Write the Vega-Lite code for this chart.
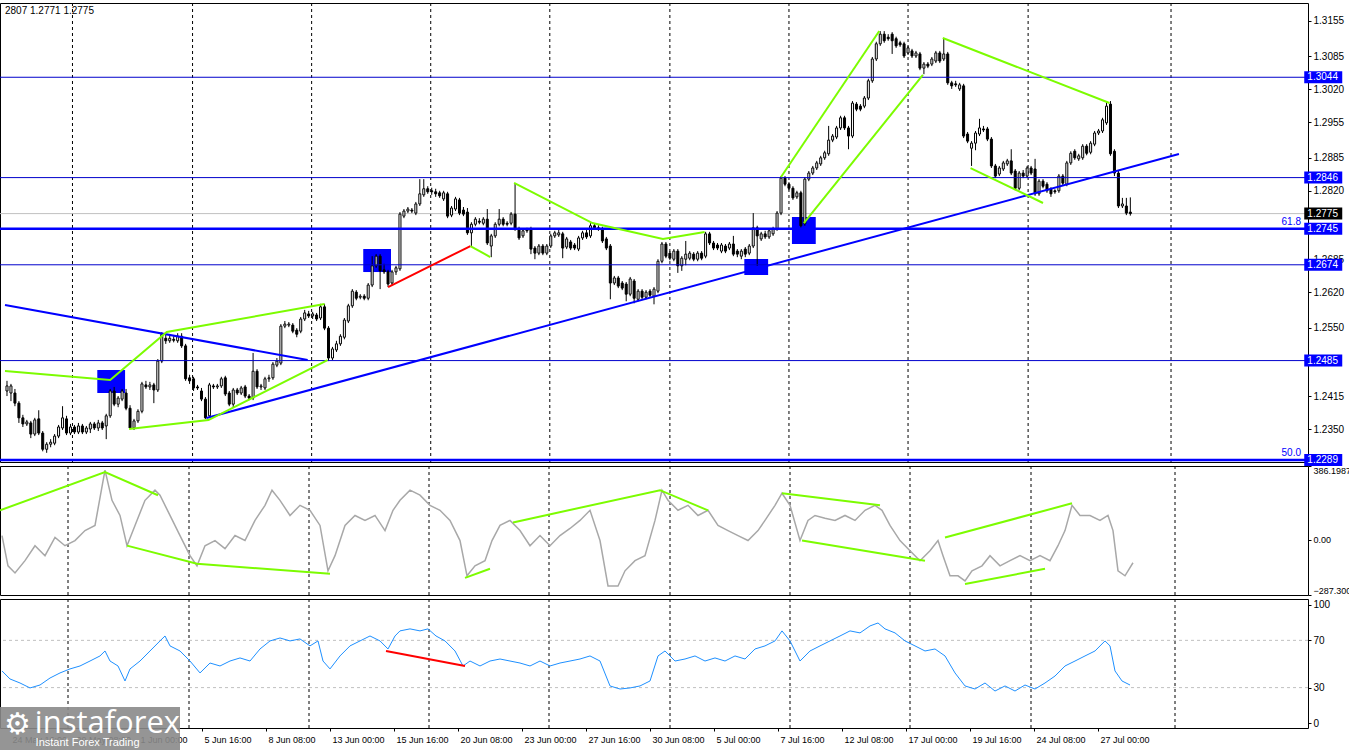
{
"$schema":"https://vega.github.io/schema/vega-lite/v6.json",
"background":"white",
"padding":{"left":-5,"top":2,"right":-8,"bottom":0},
"autosize":{"type":"pad"},
"spacing":4,
"bounds":"flush",
"config":{"view":{"stroke":"black","strokeWidth":1},"axis":{"labelFont":"Liberation Sans","labelFontSize":10,"labelColor":"black","tickColor":"black","tickSize":3,"domain":false,"grid":false,"labelPadding":2}},
"datasets":{
"one":[{"n":1}],
"bars":[
{"i":0,"o":1.2425,"h":1.2445,"l":1.2415,"c":1.2435},{"i":1,"o":1.2421,"h":1.2439,"l":1.2405,"c":1.2435},{"i":2,"o":1.2421,"h":1.2429,"l":1.2395,"c":1.2401},{"i":3,"o":1.2401,"h":1.2405,"l":1.2362,"c":1.2372},{"i":4,"o":1.2372,"h":1.2378,"l":1.2354,"c":1.2360},{"i":5,"o":1.2360,"h":1.2368,"l":1.2356,"c":1.2364},{"i":6,"o":1.2362,"h":1.2366,"l":1.2332,"c":1.2340},{"i":7,"o":1.2340,"h":1.2372,"l":1.2336,"c":1.2368},{"i":8,"o":1.2370,"h":1.2387,"l":1.2338,"c":1.2342},{"i":9,"o":1.2342,"h":1.2346,"l":1.2306,"c":1.2310},
{"i":10,"o":1.2310,"h":1.2324,"l":1.2303,"c":1.2320},{"i":11,"o":1.2320,"h":1.2330,"l":1.2314,"c":1.2324},{"i":12,"o":1.2322,"h":1.2340,"l":1.2318,"c":1.2336},{"i":13,"o":1.2336,"h":1.2358,"l":1.2332,"c":1.2354},{"i":14,"o":1.2352,"h":1.2395,"l":1.2348,"c":1.2372},{"i":15,"o":1.2370,"h":1.2376,"l":1.2338,"c":1.2342},{"i":16,"o":1.2342,"h":1.2360,"l":1.2338,"c":1.2354},{"i":17,"o":1.2354,"h":1.2358,"l":1.2340,"c":1.2344},{"i":18,"o":1.2344,"h":1.2362,"l":1.2340,"c":1.2356},{"i":19,"o":1.2356,"h":1.2360,"l":1.2340,"c":1.2344},
{"i":20,"o":1.2344,"h":1.2356,"l":1.2340,"c":1.2352},{"i":21,"o":1.2350,"h":1.2364,"l":1.2342,"c":1.2360},{"i":22,"o":1.2360,"h":1.2364,"l":1.2348,"c":1.2352},{"i":23,"o":1.2352,"h":1.2368,"l":1.2346,"c":1.2362},{"i":24,"o":1.2362,"h":1.2366,"l":1.2348,"c":1.2352},{"i":25,"o":1.2356,"h":1.2380,"l":1.2330,"c":1.2376},{"i":26,"o":1.2376,"h":1.2429,"l":1.2372,"c":1.2425},{"i":27,"o":1.2425,"h":1.2433,"l":1.2395,"c":1.2399},{"i":28,"o":1.2399,"h":1.2415,"l":1.2393,"c":1.2411},{"i":29,"o":1.2409,"h":1.2429,"l":1.2405,"c":1.2425},
{"i":30,"o":1.2421,"h":1.2429,"l":1.2387,"c":1.2391},{"i":31,"o":1.2391,"h":1.2397,"l":1.2350,"c":1.2352},{"i":32,"o":1.2352,"h":1.2370,"l":1.2348,"c":1.2366},{"i":33,"o":1.2366,"h":1.2389,"l":1.2362,"c":1.2385},{"i":34,"o":1.2385,"h":1.2443,"l":1.2381,"c":1.2439},{"i":35,"o":1.2437,"h":1.2445,"l":1.2429,"c":1.2433},{"i":36,"o":1.2433,"h":1.2443,"l":1.2427,"c":1.2437},{"i":37,"o":1.2437,"h":1.2441,"l":1.2401,"c":1.2427},{"i":38,"o":1.2427,"h":1.2488,"l":1.2423,"c":1.2484},{"i":39,"o":1.2484,"h":1.2541,"l":1.2480,"c":1.2537},
{"i":40,"o":1.2529,"h":1.2537,"l":1.2518,"c":1.2524},{"i":41,"o":1.2524,"h":1.2535,"l":1.2520,"c":1.2529},{"i":42,"o":1.2527,"h":1.2533,"l":1.2521,"c":1.2525},{"i":43,"o":1.2524,"h":1.2539,"l":1.2520,"c":1.2533},{"i":44,"o":1.2533,"h":1.2539,"l":1.2510,"c":1.2514},{"i":45,"o":1.2514,"h":1.2518,"l":1.2445,"c":1.2449},{"i":46,"o":1.2451,"h":1.2457,"l":1.2439,"c":1.2445},{"i":47,"o":1.2449,"h":1.2453,"l":1.2425,"c":1.2431},{"i":48,"o":1.2433,"h":1.2437,"l":1.2427,"c":1.2431},{"i":49,"o":1.2425,"h":1.2431,"l":1.2405,"c":1.2409},
{"i":50,"o":1.2409,"h":1.2413,"l":1.2370,"c":1.2372},{"i":51,"o":1.2376,"h":1.2441,"l":1.2372,"c":1.2437},{"i":52,"o":1.2435,"h":1.2439,"l":1.2429,"c":1.2433},{"i":53,"o":1.2433,"h":1.2439,"l":1.2429,"c":1.2435},{"i":54,"o":1.2435,"h":1.2453,"l":1.2431,"c":1.2449},{"i":55,"o":1.2451,"h":1.2455,"l":1.2415,"c":1.2419},{"i":56,"o":1.2421,"h":1.2425,"l":1.2395,"c":1.2399},{"i":57,"o":1.2399,"h":1.2431,"l":1.2393,"c":1.2427},{"i":58,"o":1.2427,"h":1.2431,"l":1.2417,"c":1.2421},{"i":59,"o":1.2421,"h":1.2435,"l":1.2417,"c":1.2431},
{"i":60,"o":1.2433,"h":1.2437,"l":1.2411,"c":1.2415},{"i":61,"o":1.2415,"h":1.2419,"l":1.2407,"c":1.2411},{"i":62,"o":1.2411,"h":1.2500,"l":1.2407,"c":1.2464},{"i":63,"o":1.2464,"h":1.2468,"l":1.2429,"c":1.2433},{"i":64,"o":1.2433,"h":1.2439,"l":1.2427,"c":1.2435},{"i":65,"o":1.2431,"h":1.2453,"l":1.2427,"c":1.2449},{"i":66,"o":1.2449,"h":1.2457,"l":1.2443,"c":1.2451},{"i":67,"o":1.2451,"h":1.2482,"l":1.2447,"c":1.2478},{"i":68,"o":1.2476,"h":1.2490,"l":1.2472,"c":1.2484},{"i":69,"o":1.2480,"h":1.2557,"l":1.2476,"c":1.2553},
{"i":70,"o":1.2553,"h":1.2563,"l":1.2549,"c":1.2557},{"i":71,"o":1.2555,"h":1.2561,"l":1.2551,"c":1.2557},{"i":72,"o":1.2555,"h":1.2559,"l":1.2539,"c":1.2543},{"i":73,"o":1.2545,"h":1.2549,"l":1.2531,"c":1.2537},{"i":74,"o":1.2543,"h":1.2571,"l":1.2539,"c":1.2567},{"i":75,"o":1.2567,"h":1.2585,"l":1.2563,"c":1.2579},{"i":76,"o":1.2577,"h":1.2583,"l":1.2569,"c":1.2573},{"i":77,"o":1.2573,"h":1.2581,"l":1.2567,"c":1.2577},{"i":78,"o":1.2575,"h":1.2579,"l":1.2563,"c":1.2567},{"i":79,"o":1.2569,"h":1.2597,"l":1.2565,"c":1.2591},
{"i":80,"o":1.2591,"h":1.2597,"l":1.2545,"c":1.2549},{"i":81,"o":1.2549,"h":1.2553,"l":1.2484,"c":1.2490},{"i":82,"o":1.2490,"h":1.2512,"l":1.2486,"c":1.2508},{"i":83,"o":1.2506,"h":1.2524,"l":1.2502,"c":1.2518},{"i":84,"o":1.2518,"h":1.2537,"l":1.2514,"c":1.2533},{"i":85,"o":1.2531,"h":1.2569,"l":1.2527,"c":1.2565},{"i":86,"o":1.2563,"h":1.2597,"l":1.2559,"c":1.2593},{"i":87,"o":1.2593,"h":1.2626,"l":1.2589,"c":1.2622},{"i":88,"o":1.2620,"h":1.2624,"l":1.2604,"c":1.2608},{"i":89,"o":1.2610,"h":1.2616,"l":1.2606,"c":1.2612},
{"i":90,"o":1.2612,"h":1.2616,"l":1.2604,"c":1.2608},{"i":91,"o":1.2608,"h":1.2638,"l":1.2604,"c":1.2634},{"i":92,"o":1.2634,"h":1.2691,"l":1.2630,"c":1.2672},{"i":93,"o":1.2672,"h":1.2695,"l":1.2668,"c":1.2691},{"i":94,"o":1.2691,"h":1.2695,"l":1.2626,"c":1.2662},{"i":95,"o":1.2664,"h":1.2676,"l":1.2656,"c":1.2660},{"i":96,"o":1.2660,"h":1.2664,"l":1.2630,"c":1.2636},{"i":97,"o":1.2638,"h":1.2664,"l":1.2634,"c":1.2660},{"i":98,"o":1.2660,"h":1.2672,"l":1.2654,"c":1.2668},{"i":99,"o":1.2666,"h":1.2778,"l":1.2662,"c":1.2774},
{"i":100,"o":1.2770,"h":1.2784,"l":1.2766,"c":1.2780},{"i":101,"o":1.2780,"h":1.2788,"l":1.2776,"c":1.2784},{"i":102,"o":1.2782,"h":1.2786,"l":1.2776,"c":1.2780},{"i":103,"o":1.2776,"h":1.2798,"l":1.2772,"c":1.2794},{"i":104,"o":1.2794,"h":1.2843,"l":1.2790,"c":1.2814},{"i":105,"o":1.2812,"h":1.2843,"l":1.2808,"c":1.2824},{"i":106,"o":1.2824,"h":1.2829,"l":1.2814,"c":1.2818},{"i":107,"o":1.2820,"h":1.2826,"l":1.2812,"c":1.2818},{"i":108,"o":1.2818,"h":1.2824,"l":1.2808,"c":1.2814},{"i":109,"o":1.2816,"h":1.2820,"l":1.2806,"c":1.2810},
{"i":110,"o":1.2804,"h":1.2820,"l":1.2800,"c":1.2816},{"i":111,"o":1.2814,"h":1.2818,"l":1.2766,"c":1.2770},{"i":112,"o":1.2772,"h":1.2790,"l":1.2768,"c":1.2786},{"i":113,"o":1.2784,"h":1.2808,"l":1.2780,"c":1.2804},{"i":114,"o":1.2802,"h":1.2806,"l":1.2772,"c":1.2776},{"i":115,"o":1.2782,"h":1.2788,"l":1.2770,"c":1.2774},{"i":116,"o":1.2778,"h":1.2786,"l":1.2733,"c":1.2737},{"i":117,"o":1.2737,"h":1.2758,"l":1.2711,"c":1.2754},{"i":118,"o":1.2754,"h":1.2768,"l":1.2750,"c":1.2764},{"i":119,"o":1.2760,"h":1.2766,"l":1.2754,"c":1.2758},
{"i":120,"o":1.2756,"h":1.2768,"l":1.2752,"c":1.2764},{"i":121,"o":1.2764,"h":1.2784,"l":1.2713,"c":1.2717},{"i":122,"o":1.2711,"h":1.2735,"l":1.2689,"c":1.2731},{"i":123,"o":1.2731,"h":1.2758,"l":1.2727,"c":1.2754},{"i":124,"o":1.2754,"h":1.2784,"l":1.2750,"c":1.2764},{"i":125,"o":1.2764,"h":1.2768,"l":1.2750,"c":1.2754},{"i":126,"o":1.2756,"h":1.2760,"l":1.2750,"c":1.2754},{"i":127,"o":1.2756,"h":1.2778,"l":1.2752,"c":1.2774},{"i":128,"o":1.2774,"h":1.2835,"l":1.2741,"c":1.2745},{"i":129,"o":1.2745,"h":1.2749,"l":1.2723,"c":1.2727},
{"i":130,"o":1.2731,"h":1.2745,"l":1.2727,"c":1.2741},{"i":131,"o":1.2743,"h":1.2747,"l":1.2737,"c":1.2741},{"i":132,"o":1.2745,"h":1.2749,"l":1.2695,"c":1.2705},{"i":133,"o":1.2707,"h":1.2711,"l":1.2685,"c":1.2697},{"i":134,"o":1.2697,"h":1.2715,"l":1.2693,"c":1.2711},{"i":135,"o":1.2711,"h":1.2715,"l":1.2693,"c":1.2697},{"i":136,"o":1.2697,"h":1.2715,"l":1.2693,"c":1.2711},{"i":137,"o":1.2711,"h":1.2735,"l":1.2707,"c":1.2731},{"i":138,"o":1.2731,"h":1.2741,"l":1.2727,"c":1.2737},{"i":139,"o":1.2733,"h":1.2743,"l":1.2729,"c":1.2737},
{"i":140,"o":1.2735,"h":1.2739,"l":1.2687,"c":1.2707},{"i":141,"o":1.2709,"h":1.2729,"l":1.2705,"c":1.2725},{"i":142,"o":1.2719,"h":1.2723,"l":1.2703,"c":1.2707},{"i":143,"o":1.2713,"h":1.2717,"l":1.2703,"c":1.2707},{"i":144,"o":1.2705,"h":1.2731,"l":1.2701,"c":1.2727},{"i":145,"o":1.2727,"h":1.2741,"l":1.2723,"c":1.2737},{"i":146,"o":1.2737,"h":1.2743,"l":1.2725,"c":1.2729},{"i":147,"o":1.2731,"h":1.2756,"l":1.2727,"c":1.2751},{"i":148,"o":1.2751,"h":1.2756,"l":1.2743,"c":1.2747},{"i":149,"o":1.2747,"h":1.2752,"l":1.2741,"c":1.2745},
{"i":150,"o":1.2745,"h":1.2749,"l":1.2717,"c":1.2721},{"i":151,"o":1.2725,"h":1.2729,"l":1.2703,"c":1.2707},{"i":152,"o":1.2711,"h":1.2715,"l":1.2606,"c":1.2638},{"i":153,"o":1.2638,"h":1.2652,"l":1.2634,"c":1.2648},{"i":154,"o":1.2648,"h":1.2652,"l":1.2628,"c":1.2632},{"i":155,"o":1.2638,"h":1.2642,"l":1.2624,"c":1.2628},{"i":156,"o":1.2636,"h":1.2640,"l":1.2602,"c":1.2616},{"i":157,"o":1.2616,"h":1.2650,"l":1.2612,"c":1.2646},{"i":158,"o":1.2642,"h":1.2646,"l":1.2598,"c":1.2608},{"i":159,"o":1.2606,"h":1.2626,"l":1.2602,"c":1.2622},
{"i":160,"o":1.2622,"h":1.2626,"l":1.2606,"c":1.2610},{"i":161,"o":1.2610,"h":1.2624,"l":1.2606,"c":1.2620},{"i":162,"o":1.2622,"h":1.2626,"l":1.2610,"c":1.2614},{"i":163,"o":1.2612,"h":1.2630,"l":1.2596,"c":1.2626},{"i":164,"o":1.2622,"h":1.2685,"l":1.2618,"c":1.2681},{"i":165,"o":1.2681,"h":1.2719,"l":1.2677,"c":1.2715},{"i":166,"o":1.2715,"h":1.2719,"l":1.2687,"c":1.2691},{"i":167,"o":1.2697,"h":1.2701,"l":1.2683,"c":1.2687},{"i":168,"o":1.2685,"h":1.2705,"l":1.2681,"c":1.2701},{"i":169,"o":1.2701,"h":1.2705,"l":1.2658,"c":1.2672},
{"i":170,"o":1.2672,"h":1.2691,"l":1.2662,"c":1.2687},{"i":171,"o":1.2685,"h":1.2721,"l":1.2673,"c":1.2695},{"i":172,"o":1.2687,"h":1.2701,"l":1.2683,"c":1.2697},{"i":173,"o":1.2695,"h":1.2699,"l":1.2681,"c":1.2685},{"i":174,"o":1.2685,"h":1.2701,"l":1.2681,"c":1.2697},{"i":175,"o":1.2697,"h":1.2701,"l":1.2683,"c":1.2687},{"i":176,"o":1.2691,"h":1.2739,"l":1.2687,"c":1.2735},{"i":177,"o":1.2735,"h":1.2739,"l":1.2713,"c":1.2717},{"i":178,"o":1.2717,"h":1.2721,"l":1.2703,"c":1.2707},{"i":179,"o":1.2713,"h":1.2717,"l":1.2703,"c":1.2707},
{"i":180,"o":1.2701,"h":1.2717,"l":1.2697,"c":1.2713},{"i":181,"o":1.2711,"h":1.2715,"l":1.2697,"c":1.2701},{"i":182,"o":1.2707,"h":1.2719,"l":1.2703,"c":1.2715},{"i":183,"o":1.2715,"h":1.2731,"l":1.2691,"c":1.2695},{"i":184,"o":1.2701,"h":1.2705,"l":1.2689,"c":1.2695},{"i":185,"o":1.2691,"h":1.2705,"l":1.2685,"c":1.2701},{"i":186,"o":1.2705,"h":1.2709,"l":1.2689,"c":1.2695},{"i":187,"o":1.2697,"h":1.2715,"l":1.2693,"c":1.2711},{"i":188,"o":1.2711,"h":1.2776,"l":1.2707,"c":1.2747},{"i":189,"o":1.2747,"h":1.2751,"l":1.2672,"c":1.2731},
{"i":190,"o":1.2725,"h":1.2739,"l":1.2721,"c":1.2735},{"i":191,"o":1.2735,"h":1.2741,"l":1.2725,"c":1.2729},{"i":192,"o":1.2729,"h":1.2745,"l":1.2725,"c":1.2741},{"i":193,"o":1.2735,"h":1.2749,"l":1.2731,"c":1.2745},{"i":194,"o":1.2745,"h":1.2780,"l":1.2741,"c":1.2776},{"i":195,"o":1.2776,"h":1.2849,"l":1.2772,"c":1.2845},{"i":196,"o":1.2845,"h":1.2849,"l":1.2829,"c":1.2833},{"i":197,"o":1.2833,"h":1.2837,"l":1.2821,"c":1.2825},{"i":198,"o":1.2825,"h":1.2829,"l":1.2802,"c":1.2806},{"i":199,"o":1.2808,"h":1.2820,"l":1.2804,"c":1.2816},
{"i":200,"o":1.2816,"h":1.2820,"l":1.2747,"c":1.2751},{"i":201,"o":1.2755,"h":1.2847,"l":1.2751,"c":1.2843},{"i":202,"o":1.2843,"h":1.2859,"l":1.2839,"c":1.2855},{"i":203,"o":1.2855,"h":1.2869,"l":1.2851,"c":1.2865},{"i":204,"o":1.2865,"h":1.2879,"l":1.2861,"c":1.2875},{"i":205,"o":1.2873,"h":1.2889,"l":1.2869,"c":1.2885},{"i":206,"o":1.2885,"h":1.2899,"l":1.2881,"c":1.2895},{"i":207,"o":1.2893,"h":1.2948,"l":1.2889,"c":1.2920},{"i":208,"o":1.2920,"h":1.2932,"l":1.2916,"c":1.2928},{"i":209,"o":1.2926,"h":1.2948,"l":1.2922,"c":1.2944},
{"i":210,"o":1.2944,"h":1.2968,"l":1.2940,"c":1.2964},{"i":211,"o":1.2964,"h":1.2968,"l":1.2940,"c":1.2944},{"i":212,"o":1.2944,"h":1.2948,"l":1.2902,"c":1.2928},{"i":213,"o":1.2928,"h":1.2997,"l":1.2924,"c":1.2993},{"i":214,"o":1.2991,"h":1.2995,"l":1.2977,"c":1.2981},{"i":215,"o":1.2987,"h":1.2991,"l":1.2977,"c":1.2981},{"i":216,"o":1.2987,"h":1.3007,"l":1.2983,"c":1.3003},{"i":217,"o":1.3003,"h":1.3041,"l":1.2999,"c":1.3037},{"i":218,"o":1.3037,"h":1.3084,"l":1.3033,"c":1.3080},{"i":219,"o":1.3080,"h":1.3114,"l":1.3076,"c":1.3110},
{"i":220,"o":1.3110,"h":1.3135,"l":1.3106,"c":1.3129},{"i":221,"o":1.3129,"h":1.3135,"l":1.3112,"c":1.3116},{"i":222,"o":1.3123,"h":1.3129,"l":1.3116,"c":1.3120},{"i":223,"o":1.3129,"h":1.3133,"l":1.3090,"c":1.3116},{"i":224,"o":1.3120,"h":1.3124,"l":1.3102,"c":1.3106},{"i":225,"o":1.3112,"h":1.3116,"l":1.3104,"c":1.3108},{"i":226,"o":1.3110,"h":1.3114,"l":1.3082,"c":1.3086},{"i":227,"o":1.3092,"h":1.3106,"l":1.3088,"c":1.3102},{"i":228,"o":1.3096,"h":1.3100,"l":1.3082,"c":1.3086},{"i":229,"o":1.3086,"h":1.3096,"l":1.3082,"c":1.3092},
{"i":230,"o":1.3090,"h":1.3094,"l":1.3058,"c":1.3062},{"i":231,"o":1.3062,"h":1.3074,"l":1.3050,"c":1.3070},{"i":232,"o":1.3070,"h":1.3074,"l":1.3062,"c":1.3066},{"i":233,"o":1.3070,"h":1.3084,"l":1.3066,"c":1.3080},{"i":234,"o":1.3076,"h":1.3096,"l":1.3072,"c":1.3092},{"i":235,"o":1.3092,"h":1.3096,"l":1.3072,"c":1.3076},{"i":236,"o":1.3080,"h":1.3120,"l":1.3076,"c":1.3090},{"i":237,"o":1.3090,"h":1.3094,"l":1.3029,"c":1.3033},{"i":238,"o":1.3033,"h":1.3037,"l":1.3021,"c":1.3027},{"i":239,"o":1.3031,"h":1.3037,"l":1.3025,"c":1.3029},
{"i":240,"o":1.3021,"h":1.3033,"l":1.3017,"c":1.3029},{"i":241,"o":1.3027,"h":1.3031,"l":1.2924,"c":1.2928},{"i":242,"o":1.2932,"h":1.2936,"l":1.2914,"c":1.2918},{"i":243,"o":1.2904,"h":1.2918,"l":1.2869,"c":1.2914},{"i":244,"o":1.2914,"h":1.2938,"l":1.2900,"c":1.2934},{"i":245,"o":1.2932,"h":1.2962,"l":1.2928,"c":1.2944},{"i":246,"o":1.2942,"h":1.2948,"l":1.2936,"c":1.2940},{"i":247,"o":1.2942,"h":1.2946,"l":1.2918,"c":1.2922},{"i":248,"o":1.2922,"h":1.2926,"l":1.2865,"c":1.2869},{"i":249,"o":1.2869,"h":1.2873,"l":1.2845,"c":1.2849},
{"i":250,"o":1.2853,"h":1.2869,"l":1.2849,"c":1.2865},{"i":251,"o":1.2863,"h":1.2879,"l":1.2859,"c":1.2875},{"i":252,"o":1.2873,"h":1.2883,"l":1.2869,"c":1.2879},{"i":253,"o":1.2879,"h":1.2902,"l":1.2851,"c":1.2855},{"i":254,"o":1.2859,"h":1.2863,"l":1.2821,"c":1.2825},{"i":255,"o":1.2825,"h":1.2859,"l":1.2821,"c":1.2855},{"i":256,"o":1.2855,"h":1.2861,"l":1.2845,"c":1.2849},{"i":257,"o":1.2849,"h":1.2869,"l":1.2845,"c":1.2865},{"i":258,"o":1.2865,"h":1.2869,"l":1.2851,"c":1.2855},{"i":259,"o":1.2863,"h":1.2883,"l":1.2810,"c":1.2814},
{"i":260,"o":1.2814,"h":1.2843,"l":1.2810,"c":1.2839},{"i":261,"o":1.2839,"h":1.2843,"l":1.2825,"c":1.2829},{"i":262,"o":1.2833,"h":1.2837,"l":1.2816,"c":1.2820},{"i":263,"o":1.2823,"h":1.2827,"l":1.2808,"c":1.2814},{"i":264,"o":1.2820,"h":1.2823,"l":1.2814,"c":1.2818},{"i":265,"o":1.2820,"h":1.2853,"l":1.2816,"c":1.2849},{"i":266,"o":1.2849,"h":1.2853,"l":1.2831,"c":1.2835},{"i":267,"o":1.2833,"h":1.2879,"l":1.2829,"c":1.2875},{"i":268,"o":1.2875,"h":1.2898,"l":1.2871,"c":1.2894},{"i":269,"o":1.2898,"h":1.2902,"l":1.2881,"c":1.2885},
{"i":270,"o":1.2883,"h":1.2893,"l":1.2879,"c":1.2889},{"i":271,"o":1.2885,"h":1.2912,"l":1.2881,"c":1.2908},{"i":272,"o":1.2908,"h":1.2912,"l":1.2890,"c":1.2894},{"i":273,"o":1.2896,"h":1.2918,"l":1.2892,"c":1.2914},{"i":274,"o":1.2912,"h":1.2938,"l":1.2908,"c":1.2934},{"i":275,"o":1.2934,"h":1.2942,"l":1.2930,"c":1.2938},{"i":276,"o":1.2938,"h":1.2964,"l":1.2934,"c":1.2960},{"i":277,"o":1.2954,"h":1.2997,"l":1.2950,"c":1.2987},{"i":278,"o":1.2991,"h":1.2997,"l":1.2889,"c":1.2893},{"i":279,"o":1.2898,"h":1.2902,"l":1.2849,"c":1.2855},
{"i":280,"o":1.2855,"h":1.2859,"l":1.2786,"c":1.2790},{"i":281,"o":1.2790,"h":1.2806,"l":1.2786,"c":1.2794},{"i":282,"o":1.2790,"h":1.2806,"l":1.2772,"c":1.2776},{"i":283,"o":1.2778,"h":1.2807,"l":1.2771,"c":1.2775}
],
"grid":[{"i":16.5},{"i":46.75},{"i":76.75},{"i":106.75},{"i":136.75},{"i":167},{"i":197},{"i":227},{"i":257.25},{"i":293.25}],
"hlines":[{"p":1.3044,"kind":"level"},{"p":1.2846,"kind":"level"},{"p":1.2674,"kind":"level"},{"p":1.2485,"kind":"level"},{"p":1.2745,"kind":"fibo","lab":"61.8"},{"p":1.2289,"kind":"fibo","lab":"50.0"},{"p":1.2775,"kind":"bid"}],
"squares":[{"i":22.75,"i2":29.75,"p":1.24664,"p2":1.2421},{"i":89.75,"i2":96.75,"p":1.27051,"p2":1.26597},{"i":185.75,"i2":191.75,"p":1.26854,"p2":1.26538},{"i":197.75,"i2":203.75,"p":1.27683,"p2":1.2715}],
"trend":[
{"seg":"t1","kind":"trend","k":0,"i":-0.5,"p":1.25946},{"seg":"t1","kind":"trend","k":1,"i":75.75,"p":1.24861},
{"seg":"t2","kind":"trend","k":0,"i":50.25,"p":1.23716},{"seg":"t2","kind":"trend","k":1,"i":295.25,"p":1.28926},
{"seg":"wa","kind":"wave","k":0,"i":-0.5,"p":1.24644},{"seg":"wa","kind":"wave","k":1,"i":26,"p":1.24466},{"seg":"wa","kind":"wave","k":2,"i":40.25,"p":1.25413},{"seg":"wa","kind":"wave","k":3,"i":80,"p":1.25966},
{"seg":"wb","kind":"wave","k":0,"i":30.75,"p":1.23499},{"seg":"wb","kind":"wave","k":1,"i":50.75,"p":1.23677},{"seg":"wb","kind":"wave","k":2,"i":80.75,"p":1.24861},
{"seg":"rc","kind":"div","k":0,"i":96,"p":1.26301},{"seg":"rc","kind":"div","k":1,"i":116.75,"p":1.2711},
{"seg":"wd","kind":"wave","k":0,"i":116.75,"p":1.2711},{"seg":"wd","kind":"wave","k":1,"i":121.75,"p":1.26893},
{"seg":"we","kind":"wave","k":0,"i":127.75,"p":1.28354},{"seg":"we","kind":"wave","k":1,"i":147.5,"p":1.27564},{"seg":"we","kind":"wave","k":2,"i":165.25,"p":1.27249},{"seg":"we","kind":"wave","k":3,"i":175.75,"p":1.27387},
{"seg":"wf1","kind":"wave","k":0,"i":195,"p":1.28472},{"seg":"wf1","kind":"wave","k":1,"i":219.75,"p":1.31353},
{"seg":"wf2","kind":"wave","k":0,"i":200.75,"p":1.27564},{"seg":"wf2","kind":"wave","k":1,"i":230.75,"p":1.30485},
{"seg":"wg","kind":"wave","k":0,"i":235.75,"p":1.31215},{"seg":"wg","kind":"wave","k":1,"i":277.75,"p":1.29932},
{"seg":"wh","kind":"wave","k":0,"i":242.75,"p":1.28649},{"seg":"wh","kind":"wave","k":1,"i":261,"p":1.27959}
],
"cci":[
{"i":0,"v":23},{"i":1.5,"v":-135},{"i":3.25,"v":-172},{"i":5.75,"v":-108},{"i":8.25,"v":-30},{"i":10.75,"v":-82},{"i":13.25,"v":13},{"i":15.75,"v":-30},{"i":18.25,"v":-3},{"i":20.75,"v":49},{"i":23.25,"v":76},{"i":25.75,"v":365},{"i":27.5,"v":207},{"i":29.5,"v":128},{"i":31.25,"v":-30},{"i":33.25,"v":76},{"i":35.75,"v":207},{"i":38.25,"v":260},{"i":39.5,"v":234},{"i":42,"v":128},{"i":44.5,"v":23},{"i":47,"v":-82},{"i":48.75,"v":-135},{"i":50.75,"v":-30},{"i":53.25,"v":-3},{"i":55.75,"v":-45},{"i":58.25,"v":23},{"i":60.75,"v":-3},{"i":63.25,"v":102},{"i":65.75,"v":181},{"i":67.5,"v":260},{"i":69.5,"v":207},{"i":72,"v":128},{"i":74.5,"v":181},{"i":77,"v":155},{"i":79.5,"v":76},{"i":81.5,"v":-161},{"i":83.25,"v":-82},{"i":85.75,"v":76},{"i":88.25,"v":128},{"i":90.75,"v":102},{"i":93.25,"v":128},{"i":95.75,"v":49},{"i":97.75,"v":155},{"i":99.5,"v":207},{"i":102,"v":260},{"i":104.5,"v":234},{"i":107,"v":181},{"i":109.5,"v":155},{"i":112,"v":102},{"i":114.5,"v":-3},{"i":116.25,"v":-187},{"i":118.25,"v":-135},{"i":120.75,"v":-108},{"i":122.5,"v":-3},{"i":124.5,"v":76},{"i":127,"v":102},{"i":129.5,"v":49},{"i":132,"v":-30},{"i":134.5,"v":23},{"i":137,"v":-30},{"i":139.5,"v":23},{"i":142,"v":60},{"i":144.5,"v":102},{"i":147,"v":155},{"i":149.5,"v":-3},{"i":151.5,"v":-240},{"i":154,"v":-240},{"i":155.75,"v":-161},{"i":158.25,"v":-108},{"i":160.75,"v":-82},{"i":163.25,"v":102},{"i":165,"v":260},{"i":166.5,"v":207},{"i":169,"v":155},{"i":171.5,"v":181},{"i":174,"v":128},{"i":176.5,"v":155},{"i":179,"v":76},{"i":181.5,"v":49},{"i":184,"v":23},{"i":186.5,"v":-3},{"i":189,"v":49},{"i":190.75,"v":102},{"i":193.25,"v":181},{"i":195,"v":244},{"i":197,"v":181},{"i":199.5,"v":-3},{"i":201.5,"v":102},{"i":203.25,"v":128},{"i":205.75,"v":113},{"i":208.25,"v":102},{"i":210.75,"v":128},{"i":213.25,"v":102},{"i":215.75,"v":155},{"i":218.25,"v":181},{"i":220,"v":155},{"i":222,"v":76},{"i":224.5,"v":-3},{"i":227,"v":-56},{"i":229.5,"v":-108},{"i":230.75,"v":-82},{"i":232,"v":-56},{"i":234,"v":-3},{"i":235.25,"v":-82},{"i":237,"v":-187},{"i":239,"v":-187},{"i":240.75,"v":-214},{"i":242.5,"v":-161},{"i":245,"v":-135},{"i":247,"v":-82},{"i":249.5,"v":-135},{"i":252,"v":-108},{"i":254.5,"v":-82},{"i":257,"v":-108},{"i":259.5,"v":-82},{"i":262,"v":-108},{"i":264,"v":-30},{"i":265.75,"v":49},{"i":267.5,"v":181},{"i":269.5,"v":128},{"i":272,"v":128},{"i":274.5,"v":102},{"i":276.5,"v":128},{"i":277.75,"v":49},{"i":279,"v":-161},{"i":280.75,"v":-187},{"i":282.75,"v":-119}
],
"ccilines":[
{"seg":"c1","k":0,"i":-0.5,"v":154.7},{"seg":"c1","k":1,"i":25.75,"v":354.6},{"seg":"c1","k":2,"i":39,"v":233.6},
{"seg":"c2","k":0,"i":31.25,"v":-29.5},{"seg":"c2","k":1,"i":48.75,"v":-124.2},{"seg":"c2","k":2,"i":82,"v":-176.8},
{"seg":"c3","k":0,"i":115.75,"v":-197.9},{"seg":"c3","k":1,"i":122,"v":-150.5},
{"seg":"c4","k":0,"i":127.75,"v":91.5},{"seg":"c4","k":1,"i":164.5,"v":259.9},{"seg":"c4","k":2,"i":176.5,"v":154.7},
{"seg":"c5","k":0,"i":195,"v":244.1},{"seg":"c5","k":1,"i":219.5,"v":181},
{"seg":"c6","k":0,"i":200,"v":-3.2},{"seg":"c6","k":1,"i":230.75,"v":-108.4},
{"seg":"c7","k":0,"i":235.75,"v":12.6},{"seg":"c7","k":1,"i":267.5,"v":191.5},
{"seg":"c8","k":0,"i":240.75,"v":-229.5},{"seg":"c8","k":1,"i":260.75,"v":-150.5}
],
"rsi":[
{"i":0,"v":44.1},{"i":2,"v":37.3},{"i":4.5,"v":33.9},{"i":7,"v":29.7},{"i":9.5,"v":32.2},{"i":12,"v":38.1},{"i":14.5,"v":42.4},{"i":17,"v":45.8},{"i":19.5,"v":48.3},{"i":22,"v":52.5},{"i":24.5,"v":56.8},{"i":25.75,"v":61},{"i":27,"v":52.5},{"i":29,"v":48.3},{"i":30.75,"v":35.6},{"i":32,"v":45.8},{"i":34.5,"v":52.5},{"i":37,"v":61},{"i":39.5,"v":69.5},{"i":40.75,"v":73.7},{"i":42,"v":65.3},{"i":44.5,"v":61},{"i":47,"v":52.5},{"i":49.5,"v":42.4},{"i":52,"v":50.8},{"i":54.5,"v":48.3},{"i":57,"v":52.5},{"i":59.5,"v":55.1},{"i":62,"v":52.5},{"i":64.5,"v":62.7},{"i":67,"v":69.5},{"i":69.5,"v":72},{"i":72,"v":69.5},{"i":74.5,"v":71.2},{"i":77,"v":65.3},{"i":79,"v":69.5},{"i":80.25,"v":52.5},{"i":82,"v":45.8},{"i":84.5,"v":56.8},{"i":87,"v":65.3},{"i":89.5,"v":69.5},{"i":92,"v":73.7},{"i":94.5,"v":69.5},{"i":96.5,"v":62.7},{"i":98.25,"v":73.7},{"i":99.5,"v":78},{"i":102,"v":79.7},{"i":104.5,"v":78},{"i":106.5,"v":79.7},{"i":108.5,"v":73.7},{"i":110.75,"v":69.5},{"i":113.25,"v":61},{"i":115.25,"v":48.3},{"i":117,"v":52.5},{"i":119.5,"v":48.3},{"i":122,"v":52.5},{"i":124.5,"v":54.2},{"i":127,"v":52.5},{"i":129.5,"v":50.8},{"i":132,"v":48.3},{"i":134.5,"v":52.5},{"i":137,"v":48.3},{"i":139.5,"v":50.8},{"i":142,"v":52.5},{"i":144.5,"v":54.2},{"i":147,"v":56.8},{"i":149.5,"v":52.5},{"i":152,"v":31.4},{"i":154.5,"v":28.8},{"i":157,"v":29.7},{"i":159.5,"v":31.4},{"i":162,"v":35.6},{"i":164,"v":56.8},{"i":165.75,"v":61},{"i":168.25,"v":52.5},{"i":170.75,"v":54.2},{"i":173.25,"v":56.8},{"i":175.75,"v":52.5},{"i":178.25,"v":55.1},{"i":180.75,"v":52.5},{"i":183.25,"v":56.8},{"i":185.75,"v":54.2},{"i":188.25,"v":62.7},{"i":190.75,"v":65.3},{"i":193.25,"v":69.5},{"i":195,"v":78},{"i":197,"v":69.5},{"i":199.5,"v":52.5},{"i":202,"v":61},{"i":204.5,"v":65.3},{"i":207,"v":69.5},{"i":209.5,"v":73.7},{"i":212,"v":78},{"i":214.5,"v":76.3},{"i":217,"v":82.2},{"i":219,"v":84.7},{"i":220.75,"v":79.7},{"i":223.25,"v":76.3},{"i":225.75,"v":69.5},{"i":228.25,"v":65.3},{"i":230.75,"v":61},{"i":233.25,"v":62.7},{"i":235.75,"v":56.8},{"i":238.25,"v":42.4},{"i":240.75,"v":31.4},{"i":243.25,"v":28.8},{"i":245.75,"v":33.9},{"i":248.25,"v":27.1},{"i":250.75,"v":31.4},{"i":253.25,"v":27.1},{"i":255.75,"v":32.2},{"i":258.25,"v":28.8},{"i":260.75,"v":33.9},{"i":263.25,"v":39.8},{"i":265.75,"v":48.3},{"i":268.25,"v":52.5},{"i":270.75,"v":56.8},{"i":273.25,"v":61},{"i":275.75,"v":69.5},{"i":277,"v":65.3},{"i":278.25,"v":44.1},{"i":280,"v":35.6},{"i":282,"v":32.2}
],
"rsilines":[{"seg":"r1","k":0,"i":96,"v":61},{"seg":"r1","k":1,"i":115.75,"v":48.3}],
"rsilev":[{"v":70},{"v":30}]
},
"vconcat":[
{"width":1308,"height":459,
"layer":[
{"data":{"name":"grid"},"mark":{"type":"rule","color":"black","strokeWidth":1,"strokeDash":[3,3]},"encoding":{"x":{"field":"i","type":"quantitative","scale":{"domain":[-0.5,326.5],"nice":false,"zero":false},"axis":null}}},
{"data":{"name":"hlines"},"transform":[{"filter":"datum.kind=='bid'"}],"mark":{"type":"rule","color":"#C0C0C0","strokeWidth":1},"encoding":{"y":{"field":"p","type":"quantitative","title":null,"scale":{"domain":[1.22849,1.31905],"nice":false,"zero":false},"axis":{"orient":"right","title":null,"values":[1.3155,1.3085,1.302,1.2955,1.2885,1.282,1.2685,1.262,1.255,1.2415,1.235],"format":".4f","labelOverlap":false}}}},
{"data":{"name":"squares"},"mark":{"type":"rect","color":"#0000FF"},"encoding":{"x":{"field":"i","type":"quantitative","scale":{"domain":[-0.5,326.5],"nice":false,"zero":false},"axis":null},"x2":{"field":"i2"},"y":{"field":"p","type":"quantitative","title":null,"scale":{"domain":[1.22849,1.31905],"nice":false,"zero":false}},"y2":{"field":"p2"}}},
{"data":{"name":"bars"},"mark":{"type":"rule","color":"black","strokeWidth":1},"encoding":{"x":{"field":"i","type":"quantitative","scale":{"domain":[-0.5,326.5],"nice":false,"zero":false},"axis":null},"y":{"field":"l","type":"quantitative","title":null,"scale":{"domain":[1.22849,1.31905],"nice":false,"zero":false}},"y2":{"field":"h"}}},
{"data":{"name":"bars"},"mark":{"type":"bar","size":2,"stroke":"black","strokeWidth":1},"encoding":{"x":{"field":"i","type":"quantitative","scale":{"domain":[-0.5,326.5],"nice":false,"zero":false},"axis":null},"y":{"field":"o","type":"quantitative","title":null,"scale":{"domain":[1.22849,1.31905],"nice":false,"zero":false}},"y2":{"field":"c"},"fill":{"condition":{"test":"datum.c>=datum.o","value":"white"},"value":"black"}}},
{"data":{"name":"hlines"},"transform":[{"filter":"datum.kind=='level'"}],"mark":{"type":"rule","color":"#0000CC","strokeWidth":1},"encoding":{"y":{"field":"p","type":"quantitative","title":null,"scale":{"domain":[1.22849,1.31905],"nice":false,"zero":false}}}},
{"data":{"name":"hlines"},"transform":[{"filter":"datum.kind=='fibo'"}],"mark":{"type":"rule","color":"#0000FF","strokeWidth":2.5},"encoding":{"y":{"field":"p","type":"quantitative","title":null,"scale":{"domain":[1.22849,1.31905],"nice":false,"zero":false}}}},
{"data":{"name":"trend"},"mark":{"type":"line","strokeWidth":2},"encoding":{"x":{"field":"i","type":"quantitative","scale":{"domain":[-0.5,326.5],"nice":false,"zero":false},"axis":null},"y":{"field":"p","type":"quantitative","title":null,"scale":{"domain":[1.22849,1.31905],"nice":false,"zero":false}},"detail":{"field":"seg"},"order":{"field":"k"},"color":{"field":"kind","type":"nominal","scale":{"domain":["trend","wave","div"],"range":["#0000FF","#7CFC00","#FF0000"]},"legend":null}}},
{"data":{"name":"hlines"},"transform":[{"filter":"datum.kind=='fibo'"}],"mark":{"type":"text","align":"right","baseline":"bottom","dy":-2,"fontSize":10,"font":"Liberation Sans","color":"#0000FF"},"encoding":{"x":{"datum":326,"type":"quantitative","scale":{"domain":[-0.5,326.5],"nice":false,"zero":false},"axis":null},"y":{"field":"p","type":"quantitative","title":null,"scale":{"domain":[1.22849,1.31905],"nice":false,"zero":false}},"text":{"field":"lab"}}},
{"data":{"name":"hlines"},"mark":{"type":"tick","orient":"horizontal","size":38,"thickness":12,"clip":false,"opacity":1},"encoding":{"x":{"datum":331.6,"type":"quantitative","scale":{"domain":[-0.5,326.5],"nice":false,"zero":false},"axis":null},"y":{"field":"p","type":"quantitative","title":null,"scale":{"domain":[1.22849,1.31905],"nice":false,"zero":false}},"color":{"condition":{"test":"datum.kind=='bid'","value":"black"},"value":"#0000FF"}}},
{"data":{"name":"hlines"},"mark":{"type":"text","align":"left","baseline":"middle","fontSize":10,"font":"Liberation Sans","color":"white","clip":false},"encoding":{"x":{"datum":327.6,"type":"quantitative","scale":{"domain":[-0.5,326.5],"nice":false,"zero":false},"axis":null},"y":{"field":"p","type":"quantitative","title":null,"scale":{"domain":[1.22849,1.31905],"nice":false,"zero":false}},"text":{"field":"p","format":".4f"}}},
{"data":{"name":"one"},"mark":{"type":"text","align":"left","baseline":"middle","fontSize":10,"font":"Liberation Sans","color":"black"},"encoding":{"x":{"datum":-0.5,"type":"quantitative","scale":{"domain":[-0.5,326.5],"nice":false,"zero":false},"axis":null},"y":{"datum":1.3175,"type":"quantitative","title":null,"scale":{"domain":[1.22849,1.31905],"nice":false,"zero":false}},"text":{"value":"2807 1.2771 1.2775"}}}
]},
{"width":1308,"height":129,
"layer":[
{"data":{"name":"grid"},"mark":{"type":"rule","color":"black","strokeWidth":1,"strokeDash":[3,3]},"encoding":{"x":{"field":"i","type":"quantitative","scale":{"domain":[-0.5,326.5],"nice":false,"zero":false},"axis":null}}},
{"data":{"name":"cci"},"mark":{"type":"line","color":"#A8A8A8","strokeWidth":1.5},"encoding":{"x":{"field":"i","type":"quantitative","scale":{"domain":[-0.5,326.5],"nice":false,"zero":false},"axis":null},"y":{"field":"v","type":"quantitative","title":null,"scale":{"domain":[-287.3001,386.1987],"nice":false,"zero":false},"axis":{"orient":"right","title":null,"values":[386.1987,0,-287.3001],"labelFlush":true,"labelFontSize":9,"labelExpr":"datum.value==0?'0.00':format(datum.value,'.4f')"}}}},
{"data":{"name":"ccilines"},"mark":{"type":"line","color":"#7CFC00","strokeWidth":2},"encoding":{"x":{"field":"i","type":"quantitative","scale":{"domain":[-0.5,326.5],"nice":false,"zero":false},"axis":null},"y":{"field":"v","type":"quantitative","title":null,"scale":{"domain":[-287.3001,386.1987],"nice":false,"zero":false}},"detail":{"field":"seg"},"order":{"field":"k"}}}
]},
{"width":1308,"height":129,
"layer":[
{"data":{"name":"grid"},"mark":{"type":"rule","color":"black","strokeWidth":1,"strokeDash":[3,3]},"encoding":{"x":{"field":"i","type":"quantitative","title":null,"scale":{"domain":[-0.5,326.5],"nice":false,"zero":false}}}},
{"data":{"name":"rsilev"},"mark":{"type":"rule","color":"#C0C0C0","strokeWidth":1,"strokeDash":[3,3]},"encoding":{"y":{"field":"v","type":"quantitative","title":null,"scale":{"domain":[-4.2,105],"nice":false,"zero":false}}}},
{"data":{"name":"rsi"},"mark":{"type":"line","color":"#1E90FF","strokeWidth":1},"encoding":{"x":{"field":"i","type":"quantitative","title":null,"scale":{"domain":[-0.5,326.5],"nice":false,"zero":false},"axis":{"orient":"bottom","title":null,"values":[2,18,34,50,66,82,98,114,130,146,162,178,194,210,226,242,258,274],"labelExpr":"['24 May 16:00','29 May 08:00','1 Jun 00:00','5 Jun 16:00','8 Jun 08:00','13 Jun 00:00','15 Jun 16:00','20 Jun 08:00','23 Jun 00:00','27 Jun 16:00','30 Jun 08:00','5 Jul 00:00','7 Jul 16:00','12 Jul 08:00','17 Jul 00:00','19 Jul 16:00','24 Jul 08:00','27 Jul 00:00'][round((datum.value-2)/16)]","labelAlign":"left","labelFontSize":9,"labelOffset":2,"labelOverlap":false,"labelBound":false,"labelPadding":4}},"y":{"field":"v","type":"quantitative","title":null,"scale":{"domain":[-4.2,105],"nice":false,"zero":false},"axis":{"orient":"right","title":null,"values":[100,70,30,0],"labelOverlap":false}}}},
{"data":{"name":"rsilines"},"mark":{"type":"line","color":"#FF0000","strokeWidth":2},"encoding":{"x":{"field":"i","type":"quantitative","title":null,"scale":{"domain":[-0.5,326.5],"nice":false,"zero":false}},"y":{"field":"v","type":"quantitative","title":null,"scale":{"domain":[-4.2,105],"nice":false,"zero":false}},"detail":{"field":"seg"},"order":{"field":"k"}}},
{"data":{"name":"one"},"mark":{"type":"rect","color":"#8A8A8A","opacity":0.9,"clip":false},"encoding":{"x":{"datum":-0.5,"type":"quantitative","title":null,"scale":{"domain":[-0.5,326.5],"nice":false,"zero":false}},"x2":{"datum":44.5},"y":{"datum":13.6,"type":"quantitative","title":null,"scale":{"domain":[-4.2,105],"nice":false,"zero":false}},"y2":{"datum":-23.7}}},
{"data":{"name":"one"},"mark":{"type":"text","align":"left","baseline":"middle","fontSize":30,"font":"DejaVu Sans","color":"white","clip":false},"encoding":{"x":{"datum":0.5,"type":"quantitative","title":null,"scale":{"domain":[-0.5,326.5],"nice":false,"zero":false}},"y":{"datum":-2,"type":"quantitative","title":null,"scale":{"domain":[-4.2,105],"nice":false,"zero":false}},"text":{"value":"⚙"}}},
{"data":{"name":"one"},"mark":{"type":"text","align":"left","baseline":"middle","fontSize":31,"font":"Open Sans","color":"white","clip":false},"encoding":{"x":{"datum":8.2,"type":"quantitative","title":null,"scale":{"domain":[-0.5,326.5],"nice":false,"zero":false}},"y":{"datum":-1,"type":"quantitative","title":null,"scale":{"domain":[-4.2,105],"nice":false,"zero":false}},"text":{"value":"instaforex"}}},
{"data":{"name":"one"},"mark":{"type":"text","align":"left","baseline":"middle","fontSize":11,"font":"Liberation Sans","color":"white","clip":false},"encoding":{"x":{"datum":8.4,"type":"quantitative","title":null,"scale":{"domain":[-0.5,326.5],"nice":false,"zero":false}},"y":{"datum":-17,"type":"quantitative","title":null,"scale":{"domain":[-4.2,105],"nice":false,"zero":false}},"text":{"value":"Instant Forex Trading"}}}
]}
]
}
